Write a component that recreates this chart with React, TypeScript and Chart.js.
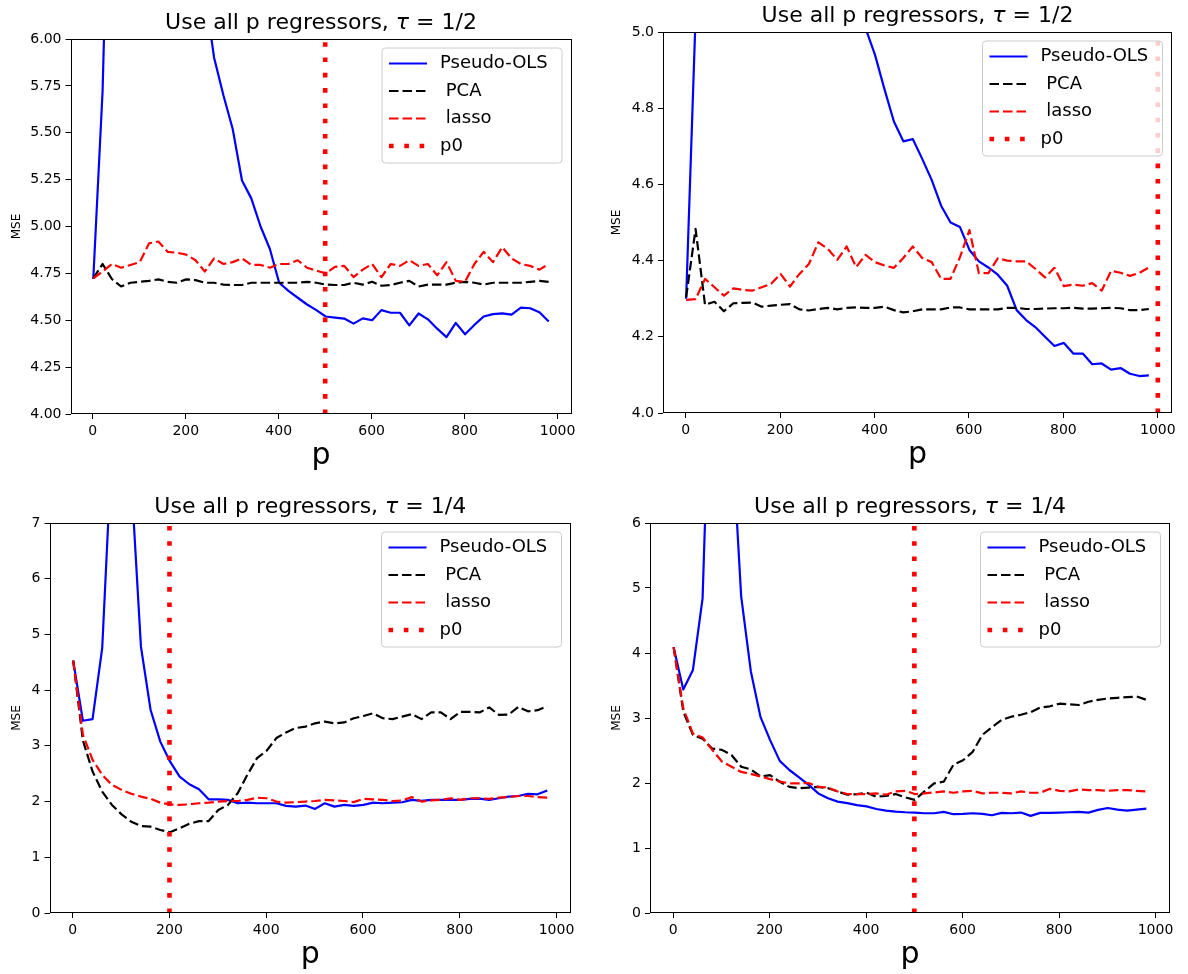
import React, { useEffect, useRef } from "react";
import { Chart, registerables } from "chart.js";

Chart.register(...registerables);

// ---------- data ----------
const pValues = [1, 21, 41, 61, 81, 101, 121, 141, 161, 181, 201, 221, 241, 261, 281, 301, 321, 341, 361, 381, 401, 421, 441, 461, 481, 501, 521, 541, 561, 581, 601, 621, 641, 661, 681, 701, 721, 741, 761, 781, 801, 821, 841, 861, 881, 901, 921, 941, 961, 981];

const xTicks = [0, 200, 400, 600, 800, 1000];
const yTicks1 = [4.0, 4.25, 4.5, 4.75, 5.0, 5.25, 5.5, 5.75, 6.0];
const yTicks2 = [4.0, 4.2, 4.4, 4.6, 4.8, 5.0];
const yTicks3 = [0, 1, 2, 3, 4, 5, 6, 7];
const yTicks4 = [0, 1, 2, 3, 4, 5, 6];

const p0Values = [500, 1000, 200, 500];
const titlePrefix = "Use all p regressors, ";
const tauSymbol = "τ";
const tauLabels = ["1/2", "1/2", "1/4", "1/4"];
const legendLabels = ["Pseudo-OLS", " PCA", " lasso", "p0"];
const xLabel = "p";
const yLabel = "MSE";

// panel 1: tau = 1/2, p0 = 500
const ols1 = [4.72, 5.72, 7.6, 14, 22, 40, 90, 45, 20, 12, 8.5, 7.0, 6.25, 5.9, 5.7, 5.52, 5.245, 5.15, 5.0, 4.88, 4.7, 4.657, 4.62, 4.584, 4.554, 4.52, 4.514, 4.509, 4.482, 4.51, 4.5, 4.554, 4.54, 4.54, 4.473, 4.536, 4.505, 4.455, 4.41, 4.486, 4.425, 4.475, 4.52, 4.533, 4.537, 4.53, 4.567, 4.564, 4.543, 4.493];
const pca1 = [4.723, 4.8, 4.72, 4.68, 4.7, 4.705, 4.71, 4.718, 4.705, 4.7, 4.718, 4.714, 4.7, 4.7, 4.69, 4.688, 4.688, 4.7, 4.7, 4.7, 4.7, 4.7, 4.7, 4.705, 4.7, 4.69, 4.688, 4.688, 4.7, 4.69, 4.705, 4.684, 4.688, 4.7, 4.71, 4.68, 4.69, 4.69, 4.69, 4.7, 4.705, 4.7, 4.69, 4.7, 4.7, 4.7, 4.7, 4.705, 4.71, 4.705];
const lasso1 = [4.723, 4.76, 4.8, 4.78, 4.795, 4.81, 4.91, 4.92, 4.865, 4.86, 4.85, 4.82, 4.76, 4.83, 4.8, 4.81, 4.83, 4.795, 4.795, 4.78, 4.8, 4.8, 4.82, 4.78, 4.765, 4.75, 4.785, 4.79, 4.73, 4.77, 4.8, 4.73, 4.8, 4.79, 4.82, 4.79, 4.8, 4.74, 4.81, 4.71, 4.705, 4.8, 4.865, 4.81, 4.89, 4.83, 4.8, 4.79, 4.77, 4.8];

// panel 2: tau = 1/2, p0 = 1000
const ols2 = [4.3, 5.04, 7, 9, 12, 16, 22, 30, 40, 35, 25, 16, 11, 8.5, 7, 6.2, 5.8, 5.5, 5.25, 5.01, 4.94, 4.85, 4.765, 4.713, 4.719, 4.667, 4.612, 4.544, 4.5, 4.488, 4.428, 4.398, 4.382, 4.363, 4.334, 4.27, 4.244, 4.225, 4.2, 4.176, 4.184, 4.156, 4.156, 4.128, 4.13, 4.114, 4.118, 4.103, 4.097, 4.099];
const pca2 = [4.304, 4.483, 4.284, 4.292, 4.267, 4.288, 4.289, 4.29, 4.279, 4.282, 4.284, 4.286, 4.272, 4.269, 4.273, 4.276, 4.272, 4.276, 4.277, 4.276, 4.276, 4.279, 4.27, 4.264, 4.267, 4.272, 4.272, 4.272, 4.277, 4.277, 4.272, 4.272, 4.272, 4.272, 4.276, 4.276, 4.273, 4.273, 4.274, 4.275, 4.275, 4.276, 4.274, 4.274, 4.275, 4.276, 4.275, 4.27, 4.27, 4.273];
const lasso2 = [4.297, 4.299, 4.352, 4.33, 4.308, 4.327, 4.323, 4.321, 4.33, 4.339, 4.365, 4.332, 4.365, 4.391, 4.448, 4.431, 4.402, 4.437, 4.383, 4.415, 4.396, 4.387, 4.381, 4.407, 4.437, 4.407, 4.396, 4.352, 4.352, 4.409, 4.48, 4.367, 4.367, 4.406, 4.4, 4.398, 4.398, 4.378, 4.356, 4.381, 4.333, 4.337, 4.334, 4.341, 4.321, 4.373, 4.368, 4.36, 4.368, 4.382];

// panel 3: tau = 1/4, p0 = 200
const ols3 = [4.53, 3.45, 3.48, 4.76, 8.4, 14, 7.8, 4.78, 3.644, 3.076, 2.72, 2.448, 2.311, 2.221, 2.04, 2.04, 2.03, 1.97, 1.982, 1.97, 1.97, 1.97, 1.922, 1.91, 1.928, 1.868, 1.97, 1.91, 1.94, 1.922, 1.94, 1.982, 1.97, 1.982, 1.988, 2.03, 2.012, 2.03, 2.03, 2.03, 2.03, 2.048, 2.054, 2.03, 2.06, 2.09, 2.1, 2.14, 2.13, 2.2];
const pca3 = [4.53, 3.1, 2.54, 2.18, 1.94, 1.77, 1.64, 1.56, 1.55, 1.49, 1.45, 1.52, 1.6, 1.65, 1.65, 1.85, 1.94, 2.15, 2.48, 2.78, 2.915, 3.14, 3.24, 3.32, 3.345, 3.405, 3.435, 3.405, 3.42, 3.495, 3.535, 3.585, 3.495, 3.48, 3.525, 3.57, 3.48, 3.6, 3.6, 3.48, 3.61, 3.61, 3.6, 3.69, 3.555, 3.56, 3.7, 3.62, 3.64, 3.71];
const lasso3 = [4.53, 3.2, 2.75, 2.48, 2.3, 2.21, 2.14, 2.09, 2.05, 1.98, 1.95, 1.94, 1.95, 1.97, 1.98, 2.0, 2.01, 2.01, 2.03, 2.07, 2.06, 2.0, 1.98, 1.99, 2.0, 2.01, 2.03, 2.02, 2.01, 1.99, 2.05, 2.04, 2.03, 2.01, 2.02, 2.08, 2.0, 2.02, 2.03, 2.06, 2.03, 2.06, 2.06, 2.05, 2.07, 2.08, 2.1, 2.1, 2.08, 2.07];

// panel 4: tau = 1/4, p0 = 500
const ols4 = [4.09, 3.44, 3.74, 4.84, 9.5, 14, 7.5, 4.87, 3.72, 3.017, 2.66, 2.34, 2.2, 2.087, 1.97, 1.84, 1.765, 1.714, 1.69, 1.66, 1.64, 1.6, 1.576, 1.56, 1.55, 1.545, 1.535, 1.535, 1.556, 1.52, 1.525, 1.535, 1.525, 1.504, 1.54, 1.535, 1.545, 1.494, 1.54, 1.54, 1.545, 1.55, 1.556, 1.545, 1.586, 1.615, 1.59, 1.574, 1.59, 1.605];
const pca4 = [4.09, 3.1, 2.74, 2.68, 2.53, 2.51, 2.43, 2.25, 2.21, 2.1, 2.12, 2.02, 1.94, 1.92, 1.93, 1.94, 1.92, 1.87, 1.82, 1.83, 1.85, 1.79, 1.8, 1.83, 1.78, 1.74, 1.87, 1.995, 2.02, 2.28, 2.35, 2.48, 2.74, 2.86, 2.97, 3.02, 3.05, 3.09, 3.16, 3.18, 3.22, 3.21, 3.2, 3.25, 3.28, 3.3, 3.31, 3.32, 3.33, 3.28];
const lasso4 = [4.09, 3.15, 2.76, 2.7, 2.51, 2.33, 2.25, 2.17, 2.14, 2.1, 2.06, 2.02, 1.995, 1.995, 2.0, 1.94, 1.93, 1.87, 1.83, 1.83, 1.83, 1.84, 1.82, 1.87, 1.88, 1.83, 1.84, 1.855, 1.87, 1.85, 1.87, 1.88, 1.84, 1.85, 1.85, 1.84, 1.87, 1.85, 1.85, 1.91, 1.88, 1.87, 1.9, 1.89, 1.89, 1.88, 1.89, 1.89, 1.88, 1.87];

// ---------- layout / style ----------
const FONT = '"DejaVu Sans"';
const BLUE = "#0000ff";
const BLACK = "#000000";
const RED = "#ff0000";
const CW = 594;
const CH = 487;
const X_MIN = -48;
const X_MAX = 1030;
const LINE_W = 2.2;
const DASH = [9.5, 4];
const DOT_W = 4.6;
const DOT = [4.6, 10.7];
const TICK_FONT = 14;
const TITLE_FONT = 22;
const LEGEND_FONT = 18;

const PANELS = [
  { ox: 0, oy: 0, area: { left: 70.5, right: 571.5, top: 39, bottom: 414 }, ols: ols1, pca: pca1, lasso: lasso1, p0: p0Values[0], yMin: 4, yMax: 6, yTicks: yTicks1, dec: 2, tau: tauLabels[0], ylabX: 17 },
  { ox: 594, oy: 0, area: { left: 69, right: 578, top: 32, bottom: 413 }, ols: ols2, pca: pca2, lasso: lasso2, p0: p0Values[1], yMin: 4, yMax: 5, yTicks: yTicks2, dec: 1, tau: tauLabels[1], ylabX: 23 },
  { ox: 0, oy: 487, area: { left: 49.5, right: 571, top: 36, bottom: 426 }, ols: ols3, pca: pca3, lasso: lasso3, p0: p0Values[2], yMin: 0, yMax: 7, yTicks: yTicks3, dec: 0, tau: tauLabels[2], ylabX: 17 },
  { ox: 594, oy: 487, area: { left: 56, right: 576, top: 36, bottom: 426 }, ols: ols4, pca: pca4, lasso: lasso4, p0: p0Values[3], yMin: 0, yMax: 6, yTicks: yTicks4, dec: 0, tau: tauLabels[3], ylabX: 23 },
];

const legendStyles = [
  { color: BLUE, width: LINE_W, dash: [] as number[] },
  { color: BLACK, width: LINE_W, dash: DASH },
  { color: RED, width: LINE_W, dash: DASH },
  { color: RED, width: DOT_W, dash: DOT },
];

function decorPlugin(pn: any) {
  return {
    id: "decor",
    afterDraw(chart: any) {
      const ctx = chart.ctx as CanvasRenderingContext2D;
      const a = chart.chartArea;
      ctx.save();
      // spines
      ctx.setLineDash([]);
      ctx.strokeStyle = "#000";
      ctx.lineWidth = 1;
      const L = Math.round(a.left) + 0.5;
      const R = Math.round(a.right) - 0.5;
      const T = Math.round(a.top) + 0.5;
      const B = Math.round(a.bottom) - 0.5;
      ctx.strokeRect(L, T, R - L, B - T);

      // legend
      const LW = 180;
      const LH = 115;
      const lx = a.right - 9.5 - LW;
      const ly = a.top + 9;
      const r = 3.5;
      ctx.beginPath();
      ctx.moveTo(lx + r, ly);
      ctx.lineTo(lx + LW - r, ly);
      ctx.arcTo(lx + LW, ly, lx + LW, ly + r, r);
      ctx.lineTo(lx + LW, ly + LH - r);
      ctx.arcTo(lx + LW, ly + LH, lx + LW - r, ly + LH, r);
      ctx.lineTo(lx + r, ly + LH);
      ctx.arcTo(lx, ly + LH, lx, ly + LH - r, r);
      ctx.lineTo(lx, ly + r);
      ctx.arcTo(lx, ly, lx + r, ly, r);
      ctx.closePath();
      ctx.fillStyle = "rgba(255,255,255,0.8)";
      ctx.fill();
      ctx.strokeStyle = "#cccccc";
      ctx.lineWidth = 1;
      ctx.stroke();
      const rows = [15.5, 43, 70.5, 98];
      legendLabels.forEach((lab, k) => {
        const st = legendStyles[k];
        const cy = ly + rows[k];
        ctx.beginPath();
        ctx.setLineDash(st.dash);
        ctx.lineDashOffset = 0;
        ctx.lineCap = "butt";
        ctx.lineWidth = st.width;
        ctx.strokeStyle = st.color;
        ctx.moveTo(lx + 7, cy);
        ctx.lineTo(lx + 45, cy);
        ctx.stroke();
        ctx.setLineDash([]);
        ctx.fillStyle = "#000";
        ctx.font = `${LEGEND_FONT}px ${FONT}`;
        ctx.textAlign = "left";
        ctx.textBaseline = "middle";
        ctx.fillText(lab, lx + 58, cy);
      });

      // title
      const fs = TITLE_FONT;
      const parts = [
        { t: titlePrefix, f: `${fs}px ${FONT}` },
        { t: tauSymbol, f: `italic ${fs}px ${FONT}` },
        { t: " = " + pn.tau, f: `${fs}px ${FONT}` },
      ];
      let total = 0;
      const widths = parts.map((p) => {
        ctx.font = p.f;
        const w = ctx.measureText(p.t).width;
        total += w;
        return w;
      });
      let x = (a.left + a.right) / 2 - total / 2;
      ctx.textAlign = "left";
      ctx.textBaseline = "alphabetic";
      ctx.fillStyle = "#000";
      parts.forEach((p, i) => {
        ctx.font = p.f;
        ctx.fillText(p.t, x, a.top - 10);
        x += widths[i];
      });

      // x label
      ctx.font = `30px ${FONT}`;
      ctx.textAlign = "center";
      ctx.fillText(xLabel, (a.left + a.right) / 2, a.bottom + 50);

      // y label
      ctx.translate(pn.ylabX, (a.top + a.bottom) / 2);
      ctx.rotate(-Math.PI / 2);
      ctx.font = `12px ${FONT}`;
      ctx.textAlign = "center";
      ctx.textBaseline = "middle";
      ctx.fillText(yLabel, 0, 0);
      ctx.restore();
    },
  };
}

function buildConfig(pn: any): any {
  const toPts = (arr: number[]) => pValues.map((p, i) => ({ x: p, y: arr[i] }));
  const common = { pointRadius: 0, pointHoverRadius: 0, tension: 0, fill: false, clip: 0, borderJoinStyle: "round" };
  const zeroPad = (s: any) => {
    s.paddingLeft = 0;
    s.paddingRight = 0;
    s.paddingTop = 0;
    s.paddingBottom = 0;
  };
  const grid = { display: true, drawOnChartArea: false, drawTicks: true, tickLength: 5, color: "#000", lineWidth: 1 };
  return {
    type: "line",
    data: {
      datasets: [
        { ...common, label: "p0", data: [{ x: pn.p0, y: pn.yMin }, { x: pn.p0, y: pn.yMax }], borderColor: RED, borderWidth: DOT_W, borderDash: DOT, borderJoinStyle: "miter" },
        { ...common, label: legendLabels[2], data: toPts(pn.lasso), borderColor: RED, borderWidth: LINE_W, borderDash: DASH },
        { ...common, label: legendLabels[1], data: toPts(pn.pca), borderColor: BLACK, borderWidth: LINE_W, borderDash: DASH },
        { ...common, label: legendLabels[0], data: toPts(pn.ols), borderColor: BLUE, borderWidth: LINE_W },
      ],
    },
    options: {
      responsive: false,
      animation: false,
      devicePixelRatio: 1,
      events: [],
      layout: { padding: { left: 0, top: pn.area.top, right: CW - pn.area.right, bottom: 0 } },
      plugins: { legend: { display: false }, tooltip: { enabled: false }, title: { display: false } },
      scales: {
        x: {
          type: "linear",
          position: "bottom",
          min: X_MIN,
          max: X_MAX,
          bounds: "data",
          afterBuildTicks: (s: any) => {
            s.ticks = xTicks.map((v) => ({ value: v }));
          },
          afterFit: (s: any) => {
            s.height = CH - pn.area.bottom;
            zeroPad(s);
          },
          grid,
          border: { display: false },
          ticks: { color: "#000", font: { family: FONT, size: TICK_FONT }, padding: 4, maxRotation: 0, minRotation: 0, autoSkip: false, callback: (v: any) => String(v) },
        },
        y: {
          type: "linear",
          position: "left",
          min: pn.yMin,
          max: pn.yMax,
          bounds: "data",
          afterBuildTicks: (s: any) => {
            s.ticks = pn.yTicks.map((v: number) => ({ value: v }));
          },
          afterFit: (s: any) => {
            s.width = pn.area.left;
            zeroPad(s);
          },
          grid,
          border: { display: false },
          ticks: { color: "#000", font: { family: FONT, size: TICK_FONT }, padding: 4, autoSkip: false, callback: (v: any) => Number(v).toFixed(pn.dec) },
        },
      },
    },
    plugins: [decorPlugin(pn)],
  };
}

export default function App() {
  const refs = useRef<(HTMLCanvasElement | null)[]>([]);
  useEffect(() => {
    Chart.defaults.font.family = FONT;
    Chart.defaults.color = "#000";
    const charts = PANELS.map((pn, i) => new Chart(refs.current[i] as HTMLCanvasElement, buildConfig(pn)));
    return () => charts.forEach((c) => c.destroy());
  }, []);
  return (
    <div style={{ position: "absolute", left: 0, top: 0, width: 1188, height: 974, background: "#fff", overflow: "hidden" }}>
      {PANELS.map((pn, i) => (
        <canvas
          key={i}
          ref={(el) => {
            refs.current[i] = el;
          }}
          width={CW}
          height={CH}
          style={{ position: "absolute", left: pn.ox, top: pn.oy, width: CW, height: CH, display: "block" }}
        />
      ))}
    </div>
  );
}
